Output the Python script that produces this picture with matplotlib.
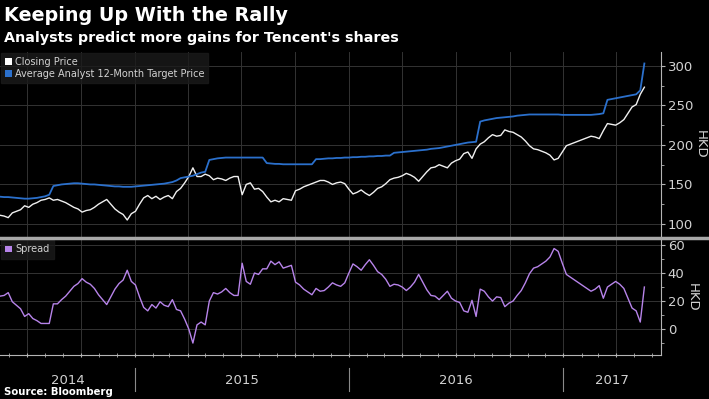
import numpy as np
import pandas as pd
import matplotlib
matplotlib.use('Agg')
import matplotlib.pyplot as plt
import matplotlib.dates as mdates
from matplotlib.patches import Patch
from matplotlib.lines import Line2D
from matplotlib.ticker import MultipleLocator, NullFormatter
import matplotlib.transforms as mtrans

# Weekly readings (HKD), starting mid-May 2014
closing_price = [
    111, 110, 108, 114, 116, 118, 123, 121, 125, 127,
    130, 131, 133, 130, 131, 129, 127, 124, 121, 119,
    115, 117, 118, 121, 125, 128, 131, 125, 119, 115,
    112, 105, 113, 116, 125, 133, 136, 132, 135, 131,
    134, 136, 132, 141, 145, 152, 160, 171, 160, 160,
    163, 161, 156, 158, 157, 155, 158, 160, 160, 137,
    150, 152, 144, 145, 141, 134, 128, 130, 128, 132,
    131, 130, 142, 144, 147, 149, 151, 153, 155, 155,
    153, 150, 152, 153, 151, 144, 138, 140, 143, 139,
    136, 140, 145, 147, 151, 156, 158, 159, 161, 164,
    162, 159, 154, 160, 166, 171, 172, 175, 173, 171,
    177, 180, 182, 189, 191, 183, 195, 201, 204, 209,
    213, 211, 212, 219, 217, 216, 213, 210, 205, 199,
    195, 194, 192, 190, 187, 181, 183, 191, 199, 201,
    203, 205, 207, 209, 211, 210, 208, 218, 227, 226,
    225, 228, 232, 240, 248, 251, 264, 273,
]

target_price = [
    134.5, 134, 134, 133.5, 133, 132.5, 132, 132, 132.5, 133,
    134, 135, 137, 148, 149, 150, 150.5, 151, 151.5, 151.5,
    151, 150.5, 150, 150, 149.5, 149, 148.5, 148, 147.5, 147.5,
    147, 147, 147, 147.5, 148, 148.5, 149, 149.5, 150, 150.5,
    151, 152, 153, 155, 158, 159, 160, 161, 163, 165,
    166, 181, 182, 183, 183.5, 184, 184, 184, 184, 184,
    184, 184, 184, 184, 184, 177, 176.5, 176, 176, 175.5,
    175.5, 175.5, 175.5, 175.5, 175.5, 175.5, 175.5, 182, 182, 182.5,
    183, 183, 183.5, 183.5, 184, 184, 184.5, 184.5, 185, 185,
    185.5, 185.5, 186, 186, 186.5, 186.5, 190, 190.5, 191, 191.5,
    192, 192.5, 193, 193.5, 194, 195, 195.5, 196, 197, 198,
    199, 200, 201, 202, 203, 203.5, 204, 229.5, 231, 232,
    233, 234, 234.5, 235, 235.5, 236, 237, 237.5, 238, 238.5,
    238.5, 238.5, 238.5, 238.5, 238.5, 238.5, 238.5, 238, 238, 238,
    238, 238, 238, 238, 238, 238.5, 239, 240, 257, 258,
    259, 260, 261, 262, 263, 264, 269, 303,
]

dates = pd.date_range('2014-05-16', periods=len(closing_price), freq='7D')
spread = np.array(target_price) - np.array(closing_price)

years = ['2014', '2015', '2016', '2017']

bg = 'black'
grid_c = '#333333'
text_c = '#d2d2d2'
spine_c = '#b4b4b4'
blue = '#2b70cc'
purple = '#b784ea'

x_start = pd.Timestamp('2014-05-16')
x_end = pd.Timestamp('2017-06-16')

fig = plt.figure(figsize=(7.09, 3.99), dpi=100, facecolor=bg)
ax1 = fig.add_axes([0, 0.406, 0.932, 0.464])
ax2 = fig.add_axes([0, 0.110, 0.932, 0.291])

for ax in (ax1, ax2):
    ax.set_facecolor(bg)
    ax.set_xlim(x_start, x_end)
    ax.xaxis.set_major_locator(mdates.MonthLocator(bymonth=[1, 4, 7, 10]))
    ax.xaxis.set_minor_locator(mdates.MonthLocator())
    ax.xaxis.set_major_formatter(NullFormatter())
    ax.grid(True, which='major', color=grid_c, linewidth=0.7)
    ax.yaxis.tick_right()
    ax.yaxis.set_label_position('right')
    for s in ('left', 'top'):
        ax.spines[s].set_visible(False)
    ax.spines['right'].set_color(spine_c)
    ax.spines['bottom'].set_color(spine_c)
    ax.tick_params(axis='y', which='major', colors=spine_c, labelcolor=text_c,
                   labelsize=9.5, length=3, pad=2)
    ax.tick_params(axis='y', which='minor', colors=spine_c, length=2)
    ax.set_ylabel('HKD', color=text_c, fontsize=9.5, rotation=270, labelpad=10)

# top panel
ax1.plot(dates, closing_price, color='#f0f0f0', linewidth=1.0)
ax1.plot(dates, target_price, color=blue, linewidth=1.3)
ax1.set_ylim(83.5, 317.7)
ax1.yaxis.set_major_locator(MultipleLocator(50))
ax1.yaxis.set_minor_locator(MultipleLocator(25))
ax1.spines['bottom'].set_visible(False)
ax1.tick_params(axis='x', which='both', length=0)

leg1 = ax1.legend(handles=[Patch(facecolor='white', label='Closing Price'),
                           Patch(facecolor=blue, label='Average Analyst 12-Month Target Price')],
                  loc='upper left', fontsize=7, frameon=True, fancybox=False,
                  handlelength=0.7, handleheight=0.7, handletextpad=0.3,
                  labelspacing=0.2, borderpad=0.4, borderaxespad=0.1)
leg1.get_frame().set_facecolor('#1b1b1b')
leg1.get_frame().set_edgecolor('#1b1b1b')
for t in leg1.get_texts():
    t.set_color(text_c)

# bottom panel
ax2.plot(dates, spread, color=purple, linewidth=1.0)
ax2.set_ylim(-18.6, 64.3)
ax2.yaxis.set_major_locator(MultipleLocator(20))
ax2.yaxis.set_minor_locator(MultipleLocator(10))
ax2.tick_params(axis='x', which='both', colors=spine_c, length=3, direction='inout')

leg2 = ax2.legend(handles=[Patch(facecolor=purple, label='Spread')],
                  loc='upper left', fontsize=7, frameon=True, fancybox=False,
                  handlelength=0.7, handleheight=0.7, handletextpad=0.3,
                  borderpad=0.45, borderaxespad=0.1)
leg2.get_frame().set_facecolor('#1b1b1b')
leg2.get_frame().set_edgecolor('#1b1b1b')
for t in leg2.get_texts():
    t.set_color(text_c)

# year labels and separators below the lower panel
trans = mtrans.blended_transform_factory(ax2.transData, ax2.transAxes)
bounds = [x_start] + [pd.Timestamp(y) for y in years[1:]] + [x_end]
for i, yr in enumerate(years):
    a, b = bounds[i], bounds[i + 1]
    ax2.text(a + (b - a) / 2, -0.215, yr, transform=trans, ha='center', va='center',
             color=text_c, fontsize=9.5)
    if i > 0:
        ax2.plot([a, a], [-0.11, -0.31], transform=trans, color='#8a8a8a',
                 linewidth=0.8, clip_on=False)

# divider between panels
fig.add_artist(Line2D([0, 1], [0.4045, 0.4045], color='#a8a8a8', linewidth=2.5))

fig.text(0.005, 0.960, 'Keeping Up With the Rally', color='white', fontsize=13.8,
         fontweight='bold', va='center', ha='left')
fig.text(0.005, 0.904, "Analysts predict more gains for Tencent's shares", color='white',
         fontsize=10.3, fontweight='bold', va='center', ha='left')
fig.text(0.005, 0.018, 'Source: Bloomberg', color='white', fontsize=7.3,
         fontweight='bold', va='center', ha='left')

fig.savefig('out.png', dpi=100, facecolor=bg)
